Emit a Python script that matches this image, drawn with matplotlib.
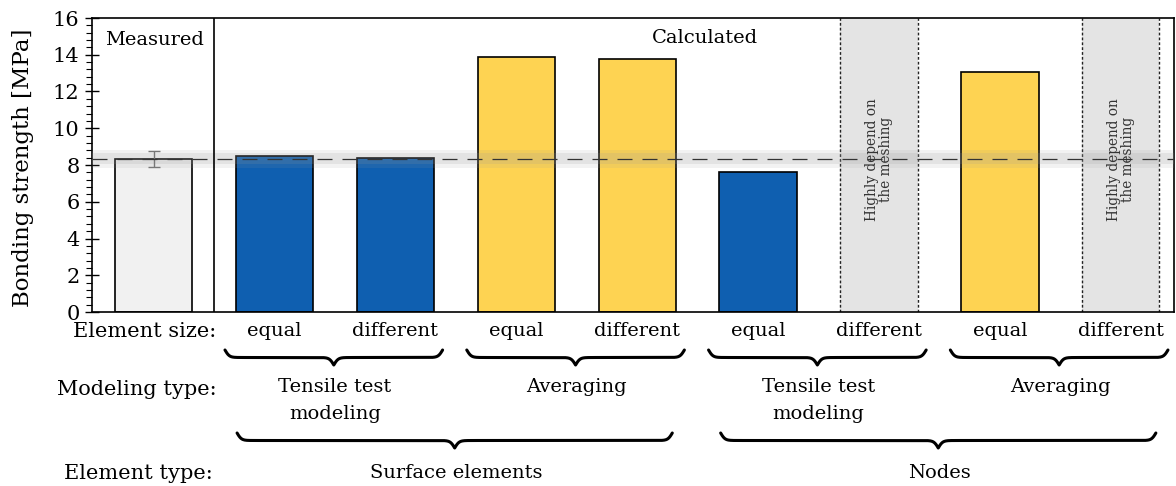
import numpy as np
import matplotlib.pyplot as plt
from matplotlib.ticker import MultipleLocator

plt.rcParams['font.family'] = ['DejaVu Serif']

# bonding strength per configuration [MPa]; nan = highly depends on the meshing
strength = [8.33, 8.5, 8.4, 13.9, 13.75, 7.6, np.nan, 13.05, np.nan]
kinds = ['measured', 'tensile', 'tensile', 'averaging', 'averaging',
         'tensile', 'mesh', 'averaging', 'mesh']
measured_mean = 8.33
measured_err = 0.45

element_size = ['', 'equal', 'different', 'equal', 'different',
                'equal', 'different', 'equal', 'different']
modeling_groups = [(1, 2, 'Tensile test\nmodeling'), (3, 4, 'Averaging'),
                   (5, 6, 'Tensile test\nmodeling'), (7, 8, 'Averaging')]
element_types = [(1, 4, 'Surface elements'), (5, 8, 'Nodes')]

colors = {'measured': '#f1f1f1', 'tensile': '#0f5fb0', 'averaging': '#fed352'}

W, H = 1176, 486
fig = plt.figure(figsize=(W / 100, H / 100), dpi=100)
ax = fig.add_axes([92 / W, 174 / H, 1082 / W, 294 / H])
xlim = (-0.51, 8.44)
width = 0.64
x = np.arange(len(strength))

for xi, val, kind in zip(x, strength, kinds):
    if kind == 'mesh':
        ax.axvspan(xi - width / 2, xi + width / 2, color='#e4e4e4', zorder=1, lw=0)
        for edge in (xi - width / 2, xi + width / 2):
            ax.axvline(edge, color='#222222', lw=1.0, ls=(0, (2, 1.5)), zorder=2)
        ax.text(xi, 8.3, 'Highly depend on\nthe meshing', rotation=90,
                ha='center', va='center', fontsize=9.8, color='#333333',
                linespacing=1.0, zorder=5)
    else:
        ax.bar(xi, val, width=width, color=colors[kind], edgecolor='black',
               lw=1.2, zorder=2)

ax.errorbar(0, measured_mean, yerr=measured_err, fmt='none', ecolor='#777777',
            elinewidth=1, capsize=4, zorder=4)

# scatter band of the measurement and mean line
ax.axhspan(measured_mean - 0.5, measured_mean + 0.5, color='#9a9a9a', alpha=0.12, lw=0, zorder=3)
ax.axhspan(measured_mean - 0.3, measured_mean + 0.3, color='#9a9a9a', alpha=0.16, lw=0, zorder=3)
ax.axhline(measured_mean, color='#333333', lw=0.9, ls=(0, (12, 8)), zorder=4)

ax.axvline(0.5, color='black', lw=1.2, zorder=4)
ax.text(0.01, 14.8, 'Measured', ha='center', va='center', fontsize=14)
ax.text(4.56, 14.9, 'Calculated', ha='center', va='center', fontsize=14)

ax.set_xlim(*xlim)
ax.set_ylim(0, 16)
ax.set_xticks([])
ax.yaxis.set_major_locator(MultipleLocator(2))
ax.yaxis.set_minor_locator(MultipleLocator(0.4))
ax.tick_params(axis='y', which='major', direction='inout', length=10, width=1, labelsize=15, pad=4)
ax.tick_params(axis='y', which='minor', direction='out', length=4, width=0.8)
ax.set_ylabel('Bonding strength [MPa]', fontsize=16.5)
ax.yaxis.set_label_coords(-0.054, 0.49)
for sp in ax.spines.values():
    sp.set_linewidth(1.2)

# category table below the bars, y in pixel rows
tab = fig.add_axes([92 / W, 0, 1082 / W, 174 / H])
tab.set_xlim(*xlim)
tab.set_ylim(H, 312)
tab.axis('off')


def brace(axis, x0, x1, y, h, beta=55):
    xs = np.linspace(x0, x1, 801)
    half = xs[:401]
    s = 1 / (1 + np.exp(-beta * (half - half[0]))) + 1 / (1 + np.exp(-beta * (half - half[-1])))
    ys = np.concatenate([s, s[-2::-1]])
    axis.plot(xs, y + (ys - 0.5) * h, color='black', lw=2.2, solid_capstyle='round')


tab.text(0.52, 331, 'Element size:', ha='right', va='center', fontsize=15)
tab.text(0.52, 389, 'Modeling type:', ha='right', va='center', fontsize=15)
tab.text(0.49, 473, 'Element type:', ha='right', va='center', fontsize=15)

for xi, lab in zip(x, element_size):
    if lab:
        tab.text(xi, 331, lab, ha='center', va='center', fontsize=14)

for i, j, lab in modeling_groups:
    brace(tab, i - 0.41, j + 0.39, 350, 15)
    tab.text((i + j) / 2, 378, lab, ha='center', va='top', fontsize=14, linespacing=1.65)

for i, j, lab in element_types:
    brace(tab, i - 0.31, j + 0.29, 433, 15)
    tab.text((i + j) / 2, 473, lab, ha='center', va='center', fontsize=14)

fig.savefig('out.png', dpi=100)
